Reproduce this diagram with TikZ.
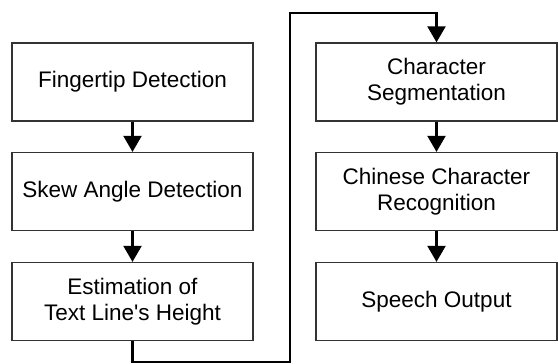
\documentclass[tikz,border=0pt]{standalone}
\usepackage{fontspec}
\setmainfont{Liberation Sans}[Ligatures=TeXOff]
\usetikzlibrary{arrows.meta}
\begin{document}
\begin{tikzpicture}[x=1pt,y=-1pt,
  stage/.style={draw=black!80, line width=1.3pt, minimum width=241pt,
    minimum height=78pt, inner sep=0pt, align=center,
    font=\fontsize{22.5}{26}\selectfont},
  flow/.style={line width=2.2pt, line join=miter,
    -{Triangle[width=18pt,length=16pt]}}]
\useasboundingbox (0,0) rectangle (558,364);

% left column
\node[stage] (fd) at (132.5,82)  {Fingertip Detection};
\node[stage] (sa) at (132.5,191.5) {Skew Angle Detection};
\node[stage] (el) at (132.5,301.5) {Estimation of\\Text Line's Height};

% right column
\node[stage] (cs) at (436.5,82)  {Character\\Segmentation};
\node[stage] (cc) at (436.5,191.5) {Chinese Character\\Recognition};
\node[stage] (so) at (436.5,301.5) {Speech Output};

% corners of the link between the columns
\coordinate (bottomrun) at (290,362);
\coordinate (toprun) at (290,13);

\draw[flow] (fd) -- (sa);
\draw[flow] (sa) -- (el);
\draw[flow] (el.south) |- (bottomrun) -- (toprun) -| (cs.north);
\draw[flow] (cs) -- (cc);
\draw[flow] (cc) -- (so);
\end{tikzpicture}
\end{document}
